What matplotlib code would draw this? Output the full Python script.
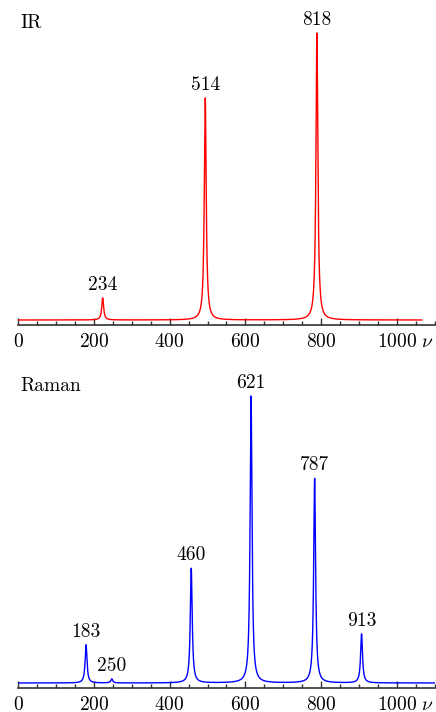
import numpy as np
import matplotlib.pyplot as plt
from matplotlib.ticker import MultipleLocator

plt.rcParams['font.family'] = 'serif'
plt.rcParams['font.serif'] = ['cmr10']
plt.rcParams['mathtext.fontset'] = 'cm'
plt.rcParams['axes.formatter.use_mathtext'] = True

# peak centres (as drawn), relative intensities and printed labels
ir_pos = [223, 494, 789]
ir_int = [0.077, 0.774, 1.0]
ir_lab = ['234', '514', '818']

raman_pos = [179, 247, 457, 615, 783, 907]
raman_int = [0.133, 0.014, 0.40, 1.0, 0.714, 0.171]
raman_lab = ['183', '250', '460', '621', '787', '913']

gamma = 3.0  # half width of the lorentzians


def spectrum(x, pos, amp):
    y = np.zeros_like(x)
    for p, a in zip(pos, amp):
        y += a * gamma**2 / ((x - p)**2 + gamma**2)
    return y


def style_axis(ax):
    for s in ['left', 'right', 'top']:
        ax.spines[s].set_visible(False)
    ax.spines['bottom'].set_linewidth(1.2)
    ax.spines['bottom'].set_color('#333333')
    ax.set_yticks([])
    ax.set_xlim(0, 1100)
    ax.set_ylim(-5 / 287, 315 / 287)
    ax.xaxis.set_major_locator(MultipleLocator(200))
    ax.xaxis.set_minor_locator(MultipleLocator(50))
    ax.tick_params(axis='x', which='major', direction='in', length=5, width=1,
                   color='#333333', labelsize=14, pad=6)
    ax.tick_params(axis='x', which='minor', direction='in', length=3, width=1,
                   color='#333333')
    ax.annotate(r'$\nu$', xy=(1080, 0), xycoords=('data', 'axes fraction'),
                xytext=(0, -6), textcoords='offset points',
                ha='center', va='top', fontsize=14)


fig = plt.figure(figsize=(4.36, 7.12), dpi=100)
left = 18.3 / 436
width = (434.6 - 18.3) / 436
ax1 = fig.add_axes([left, (712 - 325) / 712, width, 320 / 712])
ax2 = fig.add_axes([left, (712 - 688) / 712, width, 320 / 712])

x_ir = np.linspace(0, 1066, 4000)
x_ra = np.linspace(0, 1100, 4000)

panels = [
    (ax1, x_ir, ir_pos, ir_int, ir_lab, 'red', 'IR'),
    (ax2, x_ra, raman_pos, raman_int, raman_lab, 'blue', 'Raman'),
]
for ax, x, pos, amp, lab, col, name in panels:
    y = spectrum(x, pos, amp)
    ax.plot(x, y, color=col, lw=1.0)
    for p, a, t in zip(pos, amp, lab):
        ax.annotate(t, xy=(p, a), xytext=(0, 3), textcoords='offset points',
                    ha='center', va='bottom', fontsize=14)
    ax.annotate(name, xy=(0, 1), xycoords='axes fraction', xytext=(1.5, -6.5),
                textcoords='offset points', ha='left', va='top', fontsize=14)
    style_axis(ax)

fig.savefig('out.png', dpi=100)
